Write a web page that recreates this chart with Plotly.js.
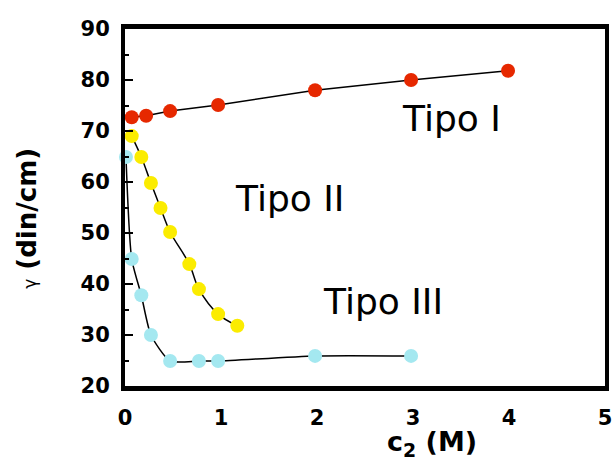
<!DOCTYPE html>
<html>
<head>
<meta charset="utf-8">
<script src="https://cdn.plot.ly/plotly-3.0.1.min.js"></script>
<style>html,body{margin:0;padding:0;background:#fff;}#chart{width:614px;height:461px;}</style>
</head>
<body>
<div id="chart"></div>
<script>
// Tipo I (red)
const xTipoI = [0.07, 0.22, 0.47, 0.97, 1.98, 2.98, 3.99];
const yTipoI = [72.7, 73.0, 73.9, 75.1, 78.0, 80.0, 81.8];
// Tipo II (yellow)
const xTipoII = [0.07, 0.17, 0.27, 0.37, 0.47, 0.67, 0.77, 0.97, 1.17];
const yTipoII = [69.0, 64.9, 59.8, 54.9, 50.2, 43.9, 39.0, 34.1, 31.8];
// Tipo III (cyan)
const xTipoIII = [0.01, 0.07, 0.17, 0.27, 0.47, 0.77, 0.97, 1.98, 2.98];
const yTipoIII = [64.9, 44.9, 37.8, 30.0, 24.9, 24.9, 24.9, 25.9, 25.9];

const xTicks = [0, 1, 2, 3, 4, 5];
const yTicks = [20, 30, 40, 50, 60, 70, 80, 90];

const labels = [
  {text: 'Tipo I', x: 3.40, y: 72.4},
  {text: 'Tipo II', x: 1.71, y: 56.8},
  {text: 'Tipo III', x: 2.69, y: 36.6}
];

const markerSize = 14;
const traces = [
  {x: xTipoI, y: yTipoI, mode: 'lines+markers', line: {color: '#000', width: 1.5, shape: 'linear'},
   marker: {color: '#e62800', size: markerSize}, cliponaxis: false},
  {x: xTipoII, y: yTipoII, mode: 'lines+markers', line: {color: '#000', width: 1.5, shape: 'spline', smoothing: 1},
   marker: {color: '#fbec00', size: markerSize}, cliponaxis: false},
  {x: xTipoIII, y: yTipoIII, mode: 'lines+markers', line: {color: '#000', width: 1.5, shape: 'spline', smoothing: 0.6},
   marker: {color: '#a4e8f0', size: markerSize}, cliponaxis: false}
];

const tickFont = {family: 'DejaVu Sans', size: 21, color: '#000', weight: 'bold'};
const layout = {
  width: 614, height: 461,
  margin: {l: 125, r: 9, t: 29, b: 75},
  paper_bgcolor: '#fff', plot_bgcolor: '#fff',
  showlegend: false,
  font: {family: 'DejaVu Sans', color: '#000'},
  xaxis: {
    range: [0, 5], tickvals: xTicks, ticktext: xTicks.map(String),
    showgrid: false, zeroline: false, showline: true, linecolor: '#000', linewidth: 5, mirror: true,
    ticks: '', tickfont: tickFont, ticklabelstandoff: 9
  },
  yaxis: {
    range: [20, 90], tickvals: yTicks, ticktext: yTicks.map(String),
    showgrid: false, zeroline: false, showline: true, linecolor: '#000', linewidth: 4, mirror: true,
    ticks: 'inside', ticklen: 8, tickwidth: 2, tickcolor: '#000',
    minor: {dtick: 5, ticks: 'inside', ticklen: 4, tickwidth: 2, tickcolor: '#000'},
    tickfont: tickFont, ticklabelstandoff: 7
  },
  annotations: labels.map(l => ({
    text: l.text, x: l.x, y: l.y, xref: 'x', yref: 'y', showarrow: false,
    xanchor: 'center', yanchor: 'middle', font: {family: 'DejaVu Sans', size: 36, color: '#000'}
  })).concat([
    {text: 'c<sub>2</sub> (M)', xref: 'paper', yref: 'paper', x: 0.64, y: -0.16,
     xanchor: 'center', yanchor: 'middle', showarrow: false,
     font: {family: 'DejaVu Sans', size: 27, color: '#000', weight: 'bold'}},
    {text: '<span style="font-size:17px;font-weight:normal">γ</span> (din/cm)', xref: 'paper', yref: 'paper',
     x: -0.203, y: 0.47, xanchor: 'center', yanchor: 'middle', textangle: -90, showarrow: false,
     font: {family: 'DejaVu Sans', size: 26, color: '#000', weight: 'bold'}}
  ])
};

Plotly.newPlot('chart', traces, layout, {displayModeBar: false, staticPlot: true});
</script>
</body>
</html>
